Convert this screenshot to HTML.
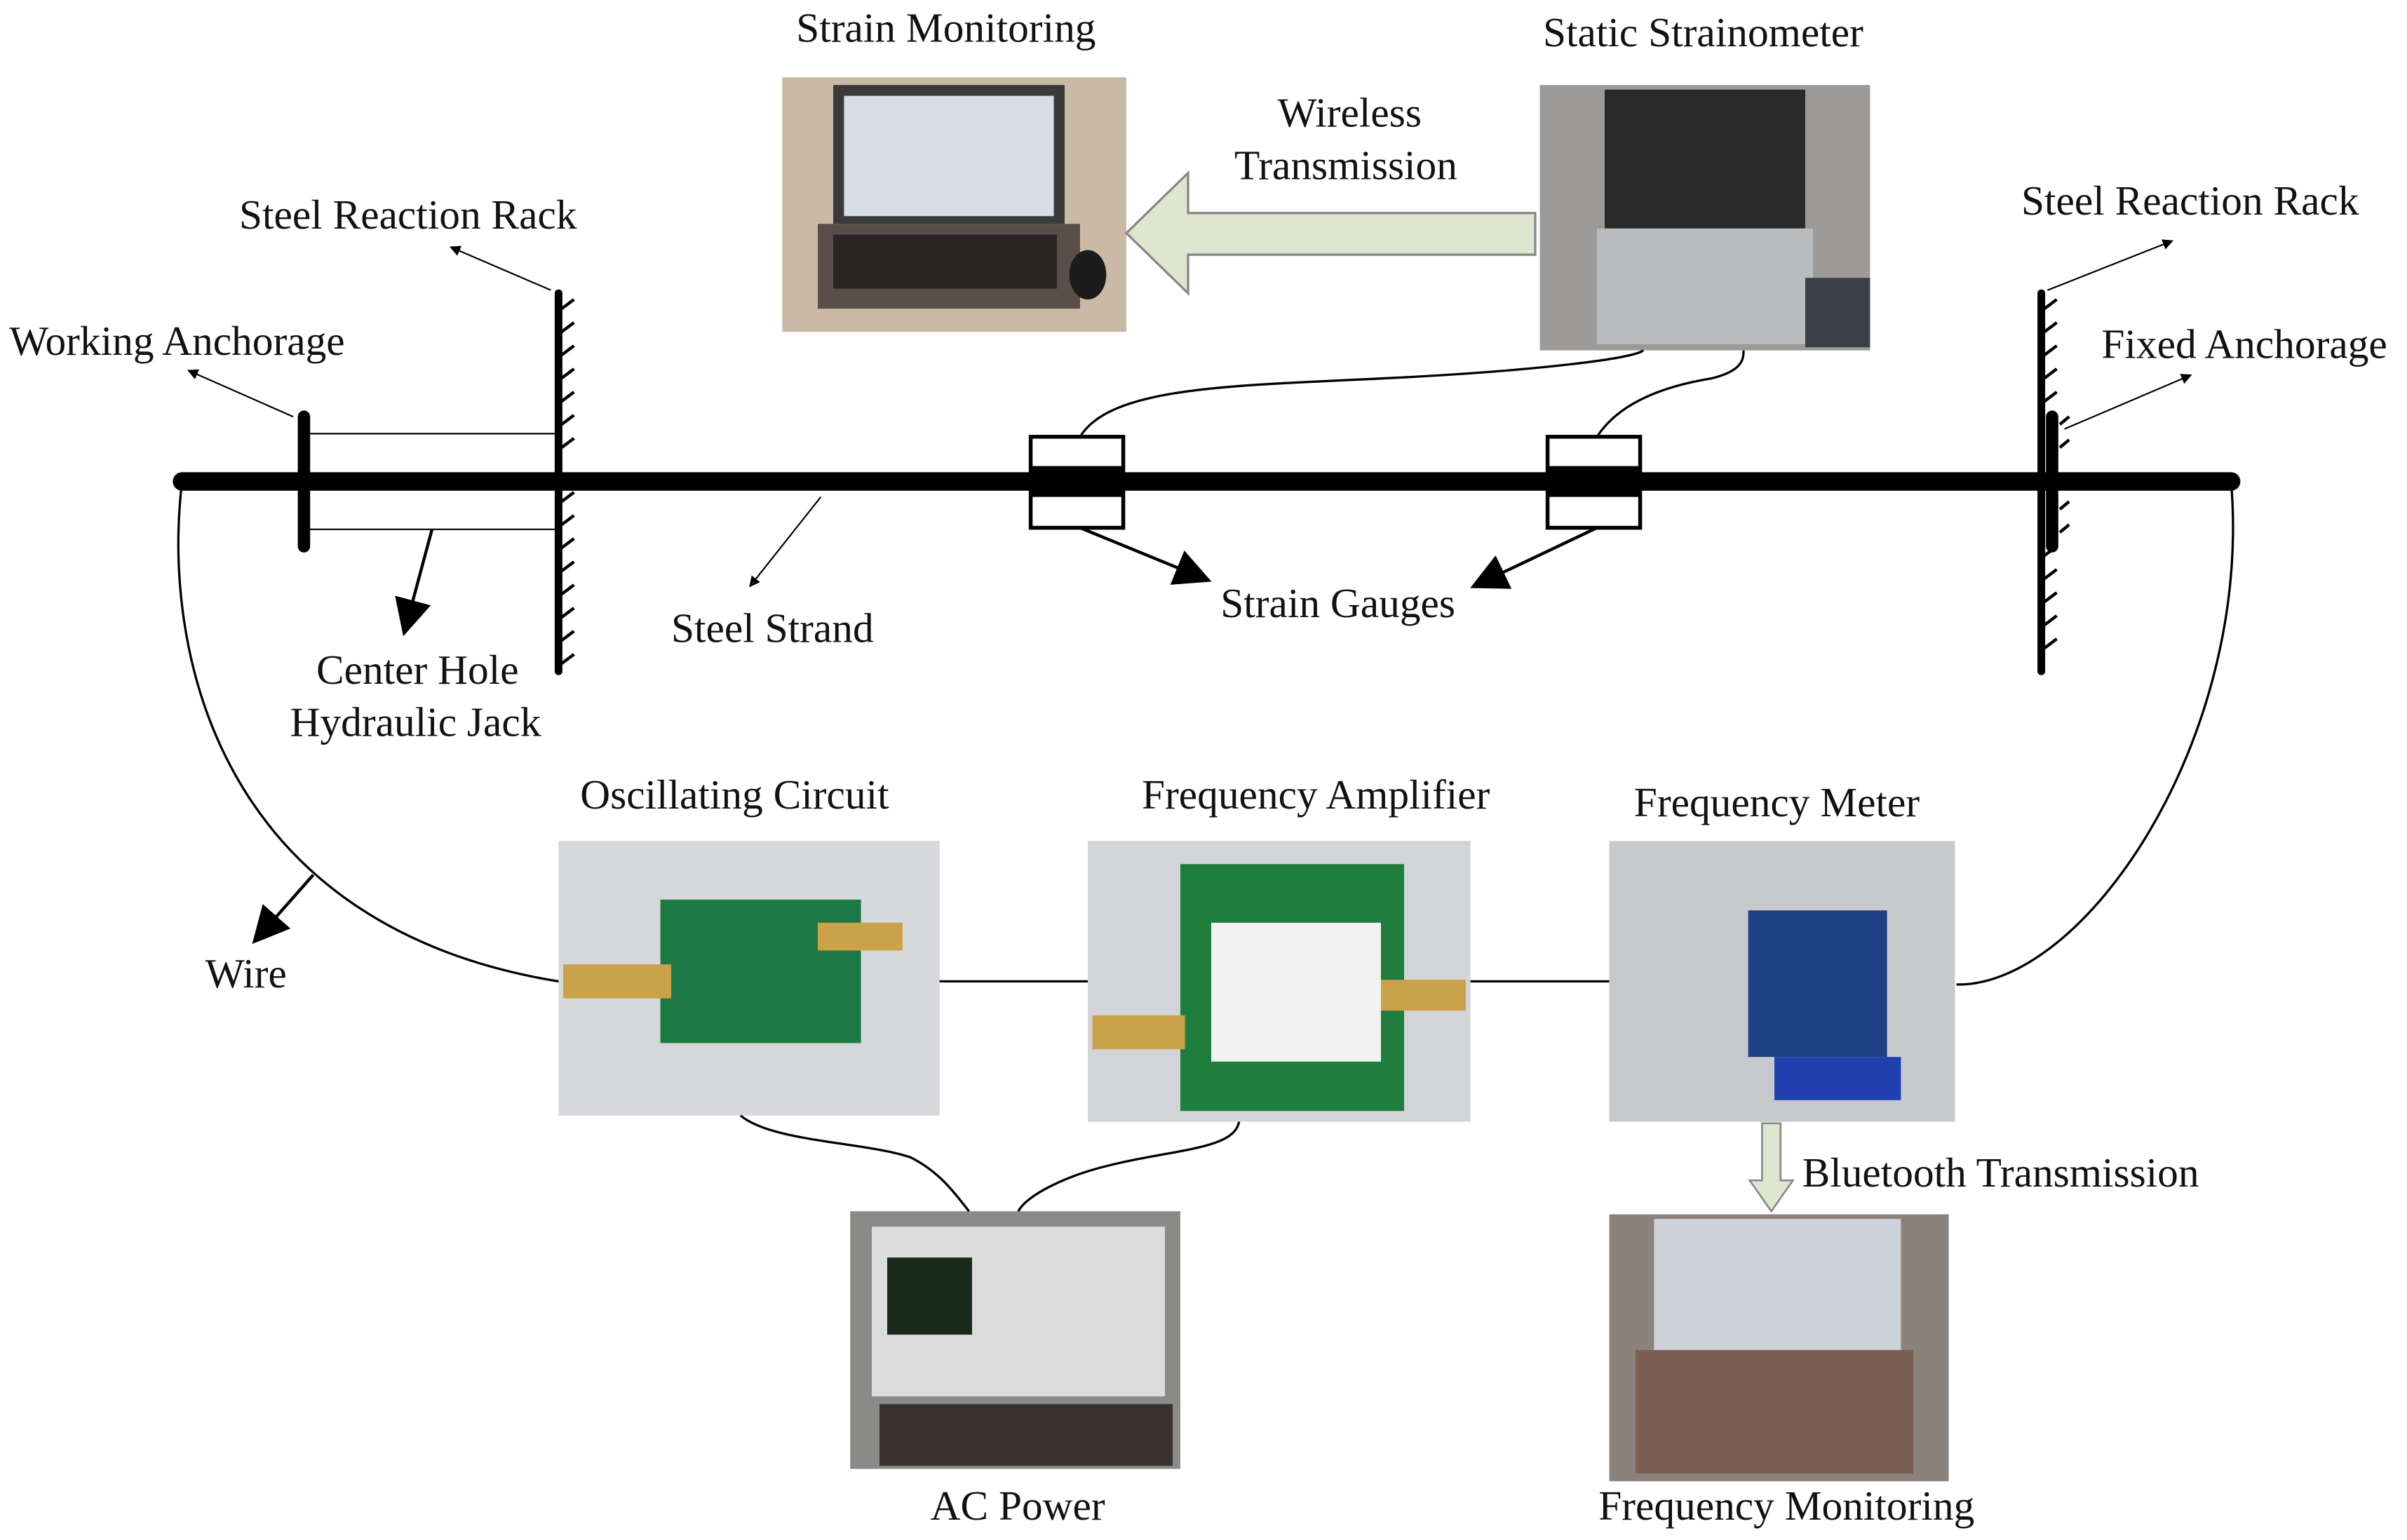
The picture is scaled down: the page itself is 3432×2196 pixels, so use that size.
<!DOCTYPE html>
<html><head><meta charset="utf-8"><style>
html,body{margin:0;padding:0;background:#fff;}
svg{display:block;}
text{font-family:"Liberation Serif","Noto Serif CJK SC",serif;font-size:27px;fill:#111;}
</style></head><body>
<svg width="3432" height="2196" viewBox="0 0 1560 998" xmlns="http://www.w3.org/2000/svg">
<defs>
<marker id="ah" viewBox="0 0 10 10" refX="9" refY="5" markerWidth="7" markerHeight="7" orient="auto"><path d="M0,0L10,5L0,10z" fill="#000"/></marker>
<marker id="ahs" viewBox="0 0 10 10" refX="9" refY="5" markerWidth="12" markerHeight="12" orient="auto"><path d="M0,0L10,5L0,10z" fill="#000"/></marker>
</defs>
<text x="516" y="27">Strain Monitoring</text>
<text x="1000" y="30">Static Strainometer</text>
<text x="828" y="82">Wireless</text>
<text x="800" y="116">Transmission</text>
<text x="155" y="148">Steel Reaction Rack</text>
<text x="1310" y="139">Steel Reaction Rack</text>
<text x="6" y="230">Working Anchorage</text>
<text x="1362" y="232">Fixed Anchorage</text>
<text x="435" y="416">Steel Strand</text>
<text x="791" y="400">Strain Gauges</text>
<text x="205" y="443">Center Hole</text>
<text x="188" y="477">Hydraulic Jack</text>
<text x="376" y="524">Oscillating Circuit</text>
<text x="740" y="524">Frequency Amplifier</text>
<text x="1059" y="529">Frequency Meter</text>
<text x="133" y="640">Wire</text>
<text x="1168" y="769">Bluetooth Transmission</text>
<text x="603" y="985">AC Power</text>
<text x="1036" y="985">Frequency Monitoring</text>

<rect x="507" y="50" width="223" height="165" fill="#c9b9a6"/>
<rect x="540" y="55" width="150" height="90" fill="#3a3a3a"/>
<rect x="547" y="62" width="136" height="78" fill="#d7dde4"/>
<rect x="530" y="145" width="170" height="55" fill="#5a4e48"/>
<rect x="540" y="152" width="145" height="35" fill="#2b2626"/>
<ellipse cx="705" cy="178" rx="12" ry="16" fill="#1c1c1c"/>

<rect x="998" y="55" width="214" height="172" fill="#9c9a98"/>
<rect x="1040" y="58" width="130" height="90" fill="#2a2a2a"/>
<rect x="1035" y="148" width="140" height="75" fill="#b8bcbf"/>
<rect x="1170" y="180" width="42" height="45" fill="#3a4048"/>

<rect x="362" y="545" width="247" height="178" fill="#d6d8dc"/>
<rect x="428" y="583" width="130" height="93" fill="#1e7a45"/>
<rect x="365" y="625" width="70" height="22" fill="#c9a24a"/>
<rect x="530" y="598" width="55" height="18" fill="#c9a24a"/>

<rect x="705" y="545" width="248" height="182" fill="#d2d4d8"/>
<rect x="765" y="560" width="145" height="160" fill="#1f7d3e"/>
<rect x="785" y="598" width="110" height="90" fill="#f2f2f2"/>
<rect x="708" y="658" width="60" height="22" fill="#c9a24a"/>
<rect x="895" y="635" width="55" height="20" fill="#c9a24a"/>

<rect x="1043" y="545" width="224" height="182" fill="#c8c9cc"/>
<rect x="1133" y="590" width="90" height="95" fill="#1f3f86"/>
<rect x="1150" y="685" width="82" height="28" fill="#2140b0"/>

<rect x="551" y="785" width="214" height="167" fill="#8a8a88"/>
<rect x="565" y="795" width="190" height="110" fill="#dcdcdc"/>
<rect x="575" y="815" width="55" height="50" fill="#1a2a1a"/>
<rect x="570" y="910" width="190" height="40" fill="#3a3030"/>

<rect x="1043" y="787" width="220" height="173" fill="#8c827c"/>
<rect x="1072" y="790" width="160" height="85" fill="#ccd2d8"/>
<rect x="1060" y="875" width="180" height="80" fill="#7a5e52"/>

<path d="M995,138L770,138L770,112L730,151L770,190L770,165L995,165z" fill="#dfe6cf" stroke="#888" stroke-width="1.5"/>
<path d="M1142,728L1142,765L1134,765L1148,785L1162,765L1154,765L1154,728z" fill="#dfe6cf" stroke="#888" stroke-width="1.2"/>

<line x1="118" y1="312" x2="1446" y2="312" stroke="#000" stroke-width="12" stroke-linecap="round"/>
<line x1="197" y1="270" x2="197" y2="354" stroke="#000" stroke-width="8" stroke-linecap="round"/>
<line x1="197" y1="281" x2="362" y2="281" stroke="#000" stroke-width="1"/>
<line x1="197" y1="343" x2="362" y2="343" stroke="#000" stroke-width="1"/>
<line x1="362" y1="190" x2="362" y2="435" stroke="#000" stroke-width="5" stroke-linecap="round"/>
<line x1="1323" y1="190" x2="1323" y2="435" stroke="#000" stroke-width="5" stroke-linecap="round"/>
<line x1="1330" y1="270" x2="1330" y2="354" stroke="#000" stroke-width="8" stroke-linecap="round"/>
<g stroke="#000" stroke-width="2">
<path d="M364,200l8,-6M364,215l8,-6M364,230l8,-6M364,245l8,-6M364,260l8,-6M364,275l8,-6M364,290l8,-6M364,325l8,-6M364,340l8,-6M364,355l8,-6M364,370l8,-6M364,385l8,-6M364,400l8,-6M364,415l8,-6M364,430l8,-6"/>
<path d="M1325,200l8,-6M1325,215l8,-6M1325,230l8,-6M1325,245l8,-6M1325,260l8,-6M1335,275l6,-5M1335,290l6,-5M1335,330l6,-5M1335,345l6,-5M1325,360l8,-6M1325,375l8,-6M1325,390l8,-6M1325,405l8,-6M1325,420l8,-6"/>
</g>
<rect x="668" y="283" width="60" height="59" fill="none" stroke="#000" stroke-width="2.5"/>
<rect x="1003" y="283" width="60" height="59" fill="none" stroke="#000" stroke-width="2.5"/>
<rect x="668" y="302" width="60" height="20" fill="#000"/>
<rect x="1003" y="302" width="60" height="20" fill="#000"/>

<g fill="none" stroke="#000" stroke-width="1.5">
<path d="M700,283C720,250 800,250 900,245C1000,240 1060,232 1065,227"/>
<path d="M1035,283C1050,260 1080,250 1110,245C1130,240 1130,232 1130,227"/>
<path d="M118,312C105,420 140,600 362,636"/>
<path d="M1446,312C1460,480 1350,640 1268,638"/>
<path d="M609,636L705,636M953,636L1043,636"/>
<path d="M480,723C500,740 560,740 590,750C610,760 620,775 628,785"/>
<path d="M803,727C800,745 760,745 720,755C690,762 665,775 660,785"/>
</g>
<g stroke="#000" stroke-width="1" fill="none" marker-end="url(#ah)">
<line x1="357" y1="188" x2="292" y2="160"/>
<line x1="190" y1="270" x2="122" y2="240"/>
<line x1="1327" y1="188" x2="1408" y2="156"/>
<line x1="1338" y1="278" x2="1420" y2="243"/>
<line x1="532" y1="322" x2="486" y2="380"/>
</g>
<g stroke="#000" stroke-width="2" fill="none" marker-end="url(#ahs)">
<line x1="280" y1="343" x2="262" y2="410"/>
<line x1="700" y1="342" x2="783" y2="376"/>
<line x1="1035" y1="342" x2="955" y2="380"/>
<line x1="203" y1="567" x2="165" y2="610"/>
</g>
</svg>
</body></html>
